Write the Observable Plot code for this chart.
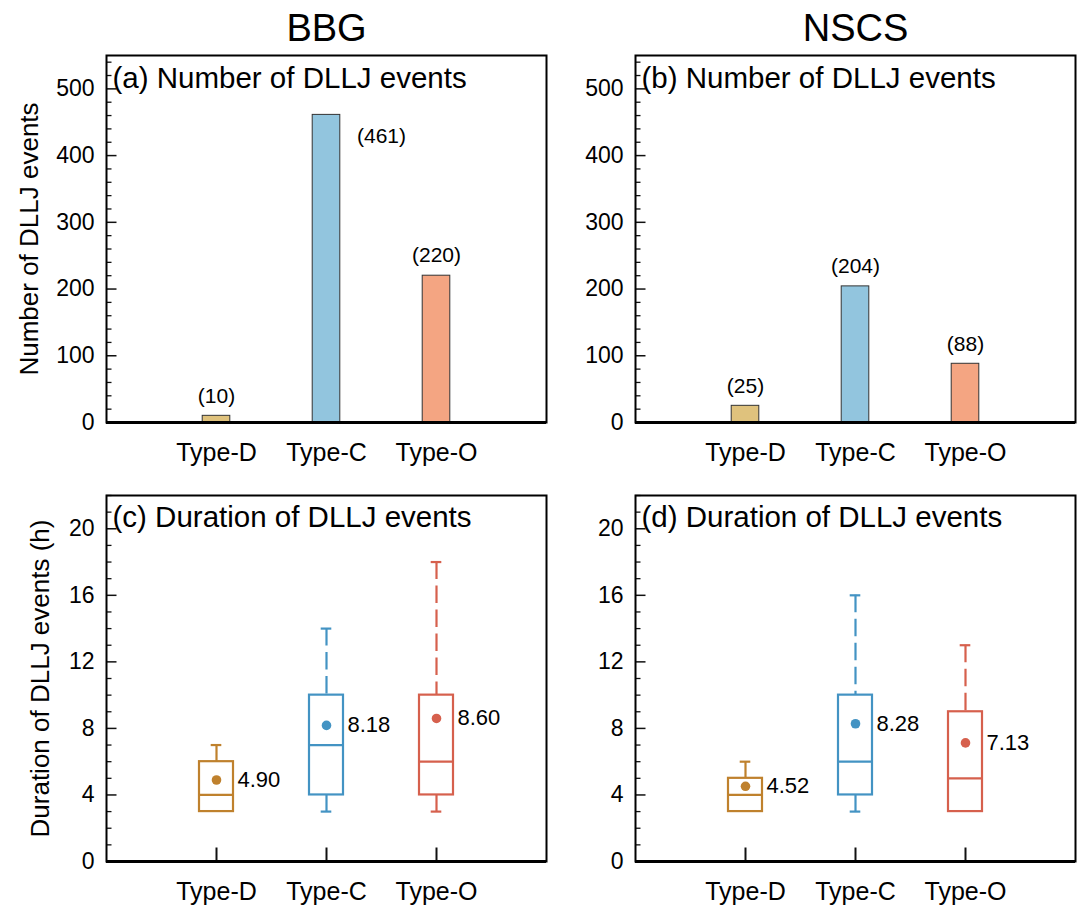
<!DOCTYPE html>
<html><head><meta charset="utf-8">
<script src="https://cdn.jsdelivr.net/npm/d3@7"></script>
<script src="https://cdn.jsdelivr.net/npm/@observablehq/plot@0.6"></script>
<style>
body{margin:0;background:#fff;}
#wrap{position:relative;width:1080px;height:907px;overflow:hidden;background:#fff;}
#wrap svg{position:absolute;}
</style></head><body><div id="wrap"></div>
<script>
// ---- data ----
const categories = ["Type-D", "Type-C", "Type-O"];
const regions = ["BBG", "NSCS"];
const countsBBG = [10, 461, 220];
const countsNSCS = [25, 204, 88];
const durMinBBG = [3, 3, 3];
const durQ1BBG = [3, 4, 4];
const durMedBBG = [4, 7, 6];
const durQ3BBG = [6, 10, 10];
const durMaxBBG = [7, 14, 18];
const durMeanBBG = [4.90, 8.18, 8.60];
const durMinNSCS = [3, 3, 3];
const durQ1NSCS = [3, 4, 3];
const durMedNSCS = [4, 6, 5];
const durQ3NSCS = [5, 10, 9];
const durMaxNSCS = [6, 16, 13];
const durMeanNSCS = [4.52, 8.28, 7.13];
const countTicks = [0, 100, 200, 300, 400, 500];
const durTicks = [0, 4, 8, 12, 16, 20];
const barFill = ["#dfc27d", "#92c5de", "#f4a582"];
const boxStroke = ["#bf812d", "#4393c3", "#d6604d"];

// ---- styling ----
const FONT = "'Liberation Sans', Arial, Helvetica, sans-serif";
const wrap = document.getElementById("wrap");
const frameW = 440;
const xDomain = [0, categories.length + 1];
const pxX = frameW / (xDomain[1] - xDomain[0]);
const barHalf = 13.8 / pxX;
const boxHalf = 17 / pxX;
const capHalf = 5.3 / pxX;

function place(svg, left, top) {
  svg.style.left = left + "px";
  svg.style.top = top + "px";
  wrap.appendChild(svg);
}

function commonAxes(ticksY, yMax, minorStep, majorStep, pxY) {
  const minors = d3.range(0, yMax + 1e-9, minorStep).filter(v => Math.abs(v / majorStep - Math.round(v / majorStep)) > 1e-6);
  const majors = d3.range(0, yMax + 1e-9, majorStep);
  return [
    Plot.ruleY(minors, {y: d => d, x1: 0, x2: 5.5 / pxX, strokeWidth: 1.3, stroke: "#111"}),
    Plot.ruleY(majors, {y: d => d, x1: 0, x2: 10.5 / pxX, strokeWidth: 1.5, stroke: "#111"}),
    Plot.axisY({ticks: ticksY, tickSize: 0, tickPadding: 12, fontSize: 23, label: null}),
    Plot.axisX({ticks: categories.map((c, i) => i + 1), tickFormat: d => categories[d - 1], tickSize: 0, tickPadding: 21, fontSize: 25, label: null}),
    Plot.frame({stroke: "#000", strokeWidth: 2}),
    Plot.ruleY([0], {stroke: "#000", strokeWidth: 3})
  ];
}

function barPanel(counts, region, letter, yLabel, left, width, mL, mR) {
  const H = 475, mT = 55, mB = 53;
  const yMax = 550;
  const pxY = (H - mT - mB) / yMax;
  const data = categories.map((c, i) => ({cat: c, pos: i + 1, value: counts[i], fill: barFill[i]}));
  const above = data.filter(d => d.value / yMax <= 0.75);
  const side = data.filter(d => d.value / yMax > 0.75);
  const marks = [
    Plot.rect(data, {x1: d => d.pos - barHalf, x2: d => d.pos + barHalf, y1: 0, y2: d => d.value, fill: d => d.fill, stroke: "#333", strokeWidth: 1}),
    Plot.text(above, {x: d => d.pos, y: d => d.value, text: d => `(${d.value})`, dy: -20, fontSize: 21}),
    Plot.text(side, {x: d => d.pos + 0.5, y: d => d.value, text: d => `(${d.value})`, dy: 21, fontSize: 21}),
    ...commonAxes(countTicks, yMax, 20, 100, pxY),
    Plot.text([`(${letter}) Number of DLLJ events`], {text: d => d, frameAnchor: "top-left", dx: 6, dy: 32, lineAnchor: "bottom", textAnchor: "start", fontSize: 29.5}),
    Plot.text([region], {text: d => d, frameAnchor: "top", dy: -15, lineAnchor: "bottom", fontSize: 38})
  ];
  if (yLabel) marks.push(Plot.text([yLabel], {text: d => d, frameAnchor: "left", rotate: -90, dx: -69, lineAnchor: "bottom", textAnchor: "middle", fontSize: 26}));
  const svg = Plot.plot({
    width, height: H, marginLeft: mL, marginRight: mR, marginTop: mT, marginBottom: mB,
    x: {type: "linear", domain: xDomain},
    y: {type: "linear", domain: [0, yMax]},
    color: {type: "identity"},
    style: {fontFamily: FONT, fontSize: "23px", color: "#000", background: "transparent", overflow: "visible"},
    marks
  });
  place(svg, left, 0);
}

function boxPanel(mins, q1s, meds, q3s, maxs, means, letter, yLabel, left, width, mL, mR) {
  const top = 475, H = 432, mT = 20, mB = 46;
  const yMax = 22;
  const pxY = (H - mT - mB) / yMax;
  const data = categories.map((c, i) => ({cat: c, pos: i + 1, min: mins[i], q1: q1s[i], med: meds[i], q3: q3s[i], max: maxs[i], mean: means[i], stroke: boxStroke[i]}));
  const up = data.filter(d => d.max > d.q3);
  const low = data.filter(d => d.min < d.q1);
  const marks = [
    Plot.ruleX(up, {x: d => d.pos, y1: d => d.max, y2: d => d.q3, stroke: d => d.stroke, strokeWidth: 2.2, strokeDasharray: "17.5,6.5"}),
    Plot.ruleX(low, {x: d => d.pos, y1: d => d.min, y2: d => d.q1, stroke: d => d.stroke, strokeWidth: 2.2, strokeDasharray: "17.5,6.5"}),
    Plot.ruleY(up, {y: d => d.max, x1: d => d.pos - capHalf, x2: d => d.pos + capHalf, stroke: d => d.stroke, strokeWidth: 2.2}),
    Plot.ruleY(low, {y: d => d.min, x1: d => d.pos - capHalf, x2: d => d.pos + capHalf, stroke: d => d.stroke, strokeWidth: 2.2}),
    Plot.rect(data, {x1: d => d.pos - boxHalf, x2: d => d.pos + boxHalf, y1: d => d.q1, y2: d => d.q3, fill: "none", stroke: d => d.stroke, strokeWidth: 2.2}),
    Plot.ruleY(data, {y: d => d.med, x1: d => d.pos - boxHalf, x2: d => d.pos + boxHalf, stroke: d => d.stroke, strokeWidth: 2.2}),
    Plot.dot(data, {x: d => d.pos, y: d => d.mean, r: 4.8, fill: d => d.stroke, stroke: "none"}),
    Plot.text(data, {x: d => d.pos + boxHalf, y: d => d.mean, text: d => d.mean.toFixed(2), dx: 4, textAnchor: "start", fontSize: 22}),
    Plot.ruleX(data, {x: d => d.pos, y1: 0, y2: 13.5 / pxY, stroke: "#111", strokeWidth: 2}),
    ...commonAxes(durTicks, yMax, 1, 4, pxY),
    Plot.text([`(${letter}) Duration of DLLJ events`], {text: d => d, frameAnchor: "top-left", dx: 6, dy: 31, lineAnchor: "bottom", textAnchor: "start", fontSize: 29.5})
  ];
  if (yLabel) marks.push(Plot.text([yLabel], {text: d => d, frameAnchor: "left", rotate: -90, dx: -58, lineAnchor: "bottom", textAnchor: "middle", fontSize: 26}));
  const svg = Plot.plot({
    width, height: H, marginLeft: mL, marginRight: mR, marginTop: mT, marginBottom: mB,
    x: {type: "linear", domain: xDomain},
    y: {type: "linear", domain: [0, yMax]},
    color: {type: "identity"},
    style: {fontFamily: FONT, fontSize: "23px", color: "#000", background: "transparent", overflow: "visible"},
    marks
  });
  place(svg, left, top);
}

barPanel(countsBBG, regions[0], "a", "Number of DLLJ events", 0, 560, 106, 14);
barPanel(countsNSCS, regions[1], "b", null, 560, 520, 75, 5);
boxPanel(durMinBBG, durQ1BBG, durMedBBG, durQ3BBG, durMaxBBG, durMeanBBG, "c", "Duration of DLLJ events (h)", 0, 560, 106, 14);
boxPanel(durMinNSCS, durQ1NSCS, durMedNSCS, durQ3NSCS, durMaxNSCS, durMeanNSCS, "d", null, 560, 520, 75, 5);
</script></body></html>
